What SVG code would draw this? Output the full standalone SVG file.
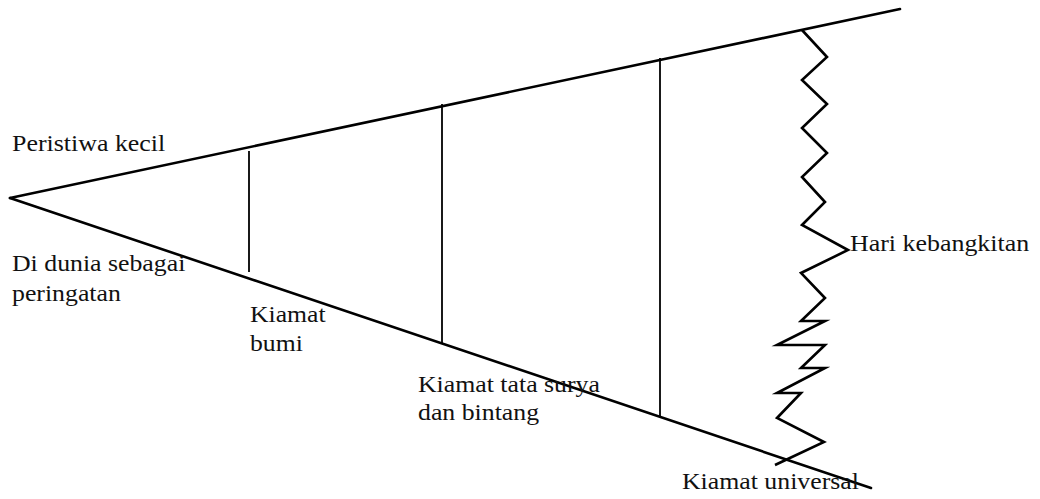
<svg xmlns="http://www.w3.org/2000/svg" width="1040" height="499" viewBox="0 0 1040 499">
<style>
.main{stroke:#000;stroke-width:2.6;fill:none;stroke-linecap:round}
.div{stroke:#000;stroke-width:1.8;fill:none}
.zig{stroke:#000;stroke-width:2.6;fill:none;stroke-linejoin:miter;stroke-miterlimit:10}
</style>
<rect x="0" y="0" width="1040" height="499" fill="#ffffff"/>
<g id="connectors">
<line class="main" x1="10" y1="198" x2="900" y2="9"/>
<line class="main" x1="10" y1="198" x2="871" y2="488"/>
<line class="div" x1="249" y1="151" x2="249" y2="272"/>
<line class="div" x1="442" y1="104" x2="442" y2="344"/>
<line class="div" x1="660" y1="58" x2="660" y2="416"/>
<polyline class="zig" points="802,30 827,57 802,80 827,104 802,128 827,153 802,177 825,202 802,225 848,250 801,273 825,298 801,321 825,321 777,345 825,345 801,368 825,368 777,393 801,393 777,418 824,442 775,465"/>
</g>
<g id="node-peristiwa-kecil" font-family="Liberation Serif" font-size="24" fill="#111"><text transform="matrix(1.08 0 0 1 12 151)">Peristiwa kecil</text></g>
<g id="node-di-dunia" font-family="Liberation Serif" font-size="24" fill="#111"><text transform="matrix(1.075 0 0 1 12 271)">Di dunia sebagai</text><text transform="matrix(1.075 0 0 1 12 301)">peringatan</text></g>
<g id="node-kiamat-bumi" font-family="Liberation Serif" font-size="24" fill="#111"><text transform="matrix(1.07 0 0 1 250 322)">Kiamat</text><text transform="matrix(1.07 0 0 1 250 351)">bumi</text></g>
<g id="node-kiamat-tata-surya" font-family="Liberation Serif" font-size="24" fill="#111"><text transform="matrix(1.075 0 0 1 418 392)">Kiamat tata surya</text><text transform="matrix(1.075 0 0 1 418 420)">dan bintang</text></g>
<g id="node-hari-kebangkitan" font-family="Liberation Serif" font-size="24" fill="#111"><text transform="matrix(1.08 0 0 1 850 251)">Hari kebangkitan</text></g>
<g id="node-kiamat-universal" font-family="Liberation Serif" font-size="24" fill="#111"><text transform="matrix(1.075 0 0 1 682 489)">Kiamat universal</text></g>
</svg>
